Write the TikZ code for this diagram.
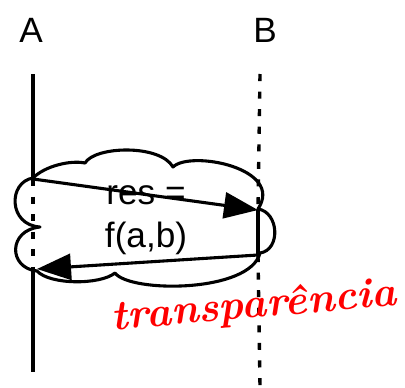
\documentclass[tikz,border=0pt]{standalone}
\usepackage{fontspec}
\setmainfont{Liberation Sans}
\newfontfamily\handfont{Latin Modern Roman}
\usetikzlibrary{arrows.meta}

\begin{document}
\begin{tikzpicture}[x=0.025cm,y=-0.025cm,
    lbl/.style={font=\fontsize{25}{31}\selectfont},
    life/.style={line width=2.2pt},
    dotline/.style={line width=2.4pt,dash pattern=on 5pt off 7.5pt},
    msg/.style={-{Triangle[length=0.85cm,width=0.65cm]},line width=2.2pt},
    puff/.style={line width=2.2pt,line join=round}
  ]
    \useasboundingbox (0,0) rectangle (405,387);
    % the cloud behind the exchange
    \draw[puff] (33,178) .. controls (45,166) and (70,160) .. (85,163)
      .. controls (95,146) and (160,144) .. (173,167)
      .. controls (190,150) and (285,168) .. (258,209)
      .. controls (279,212) and (281,250) .. (260,253)
      .. controls (250,293) and (130,293) .. (115,273)
      .. controls (100,285) and (50,285) .. (37,271)
      .. controls (8,268) and (8,230) .. (40,227)
      .. controls (8,225) and (8,182) .. cycle;
    % the two sides
    \node[lbl] (labA) at (31,30) {A};
    \node[lbl] (labB) at (265,30) {B};
    \coordinate (a0) at (33,74);
    \coordinate (a1) at (33,179);
    \coordinate (a2) at (33,270);
    \coordinate (a3) at (33,372);
    \coordinate (b0) at (260,74);
    \coordinate (b1) at (258,210);
    \coordinate (b2) at (258,255);
    \coordinate (b3) at (260,387);
    \coordinate (a4) at (37,269);
    \draw[life] (a0) -- (a1);
    \draw[dotline] (a1) -- (a2);
    \draw[life] (a2) -- (a3);
    \draw[dotline] (b0) -- (b1);
    \draw[dotline] (b2) -- (b3);
    % call and reply
    \draw[msg] (a1) -- (b1);
    \draw[life] (b1) -- (b2);
    \draw[msg] (b2) -- (a4);
    \node[lbl,align=center] (res) at (146,220) {res =\\f(a,b)};
    \node[red,rotate=5,font=\handfont\bfseries\itshape\fontsize{30}{36}\selectfont] (tr) at (254,307) {transparência};
  \end{tikzpicture}
\end{document}
